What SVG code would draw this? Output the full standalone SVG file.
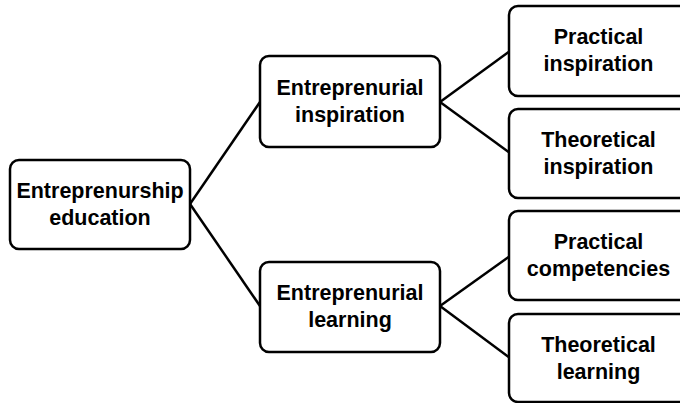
<svg xmlns="http://www.w3.org/2000/svg" width="680" height="403" viewBox="0 0 680 403">
<style>
.box{fill:#fff;stroke:#000;stroke-width:2.5}
.lbl{font-family:"Liberation Sans",Arial,sans-serif;font-weight:bold;font-size:21.5px;text-anchor:middle;fill:#000;font-variant-ligatures:none}
.con{stroke:#000;stroke-width:2.5;fill:none}
</style>
<rect width="680" height="403" fill="#fff"/>
<g id="connectors">
<line class="con" x1="190" y1="204" x2="260" y2="102"/>
<line class="con" x1="190" y1="204" x2="260" y2="306"/>
<line class="con" x1="440" y1="102" x2="510" y2="51"/>
<line class="con" x1="440" y1="102" x2="510" y2="153"/>
<line class="con" x1="440" y1="306" x2="510" y2="256"/>
<line class="con" x1="440" y1="306" x2="510" y2="358"/>
</g>
<g id="root">
<rect class="box" x="10" y="160" width="180" height="89" rx="9"/>
<text class="lbl" x="100" y="198">Entreprenurship</text>
<text class="lbl" x="100" y="225">education</text>
</g>
<g id="ent-inspiration">
<rect class="box" x="260" y="56" width="180" height="91" rx="9"/>
<text class="lbl" x="350" y="95">Entreprenurial</text>
<text class="lbl" x="350" y="122">inspiration</text>
</g>
<g id="ent-learning">
<rect class="box" x="260" y="262" width="180" height="90" rx="9"/>
<text class="lbl" x="350" y="300">Entreprenurial</text>
<text class="lbl" x="350" y="327">learning</text>
</g>
<g id="practical-inspiration">
<rect class="box" x="509" y="6" width="180" height="90" rx="9"/>
<text class="lbl" x="598.5" y="44">Practical</text>
<text class="lbl" x="598.5" y="71">inspiration</text>
</g>
<g id="theoretical-inspiration">
<rect class="box" x="509" y="109" width="180" height="89" rx="9"/>
<text class="lbl" x="598.5" y="147">Theoretical</text>
<text class="lbl" x="598.5" y="174">inspiration</text>
</g>
<g id="practical-competencies">
<rect class="box" x="509" y="211" width="180" height="89" rx="9"/>
<text class="lbl" x="598.5" y="249">Practical</text>
<text class="lbl" x="598.5" y="276">competencies</text>
</g>
<g id="theoretical-learning">
<rect class="box" x="509" y="314" width="180" height="88" rx="9"/>
<text class="lbl" x="598.5" y="352">Theoretical</text>
<text class="lbl" x="598.5" y="379">learning</text>
</g>
</svg>
